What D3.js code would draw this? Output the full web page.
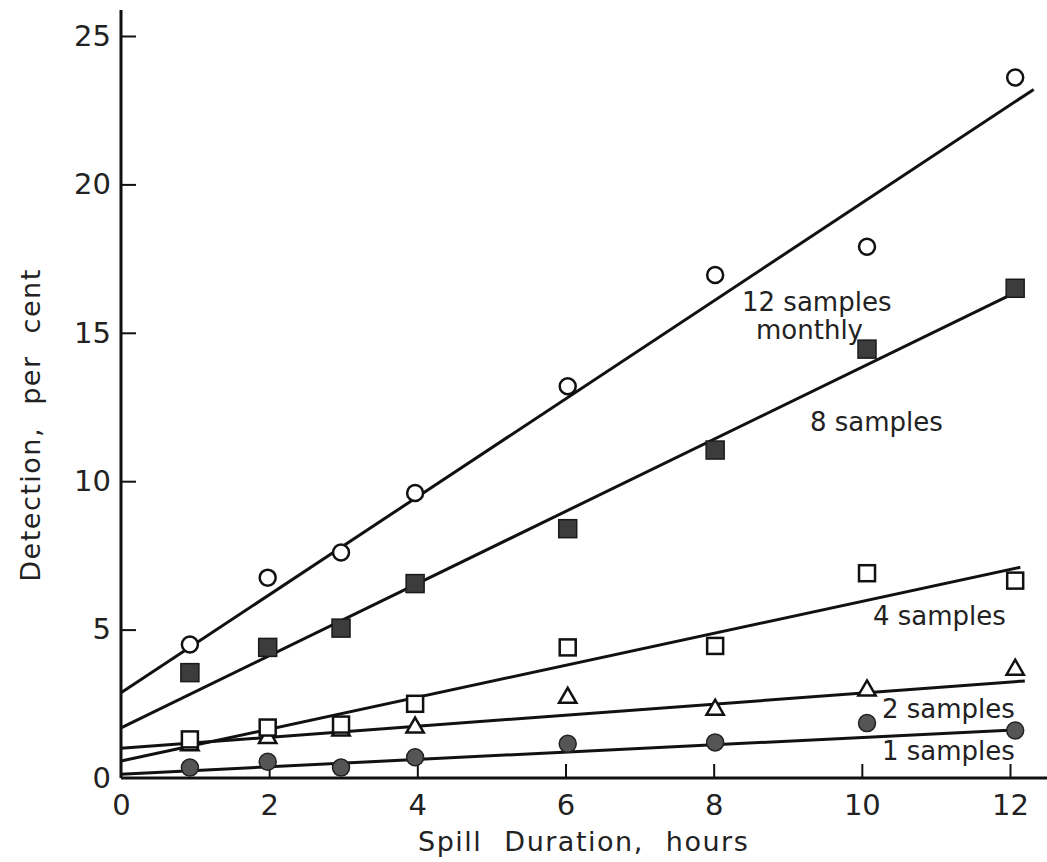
<!DOCTYPE html>
<html>
<head>
<meta charset="utf-8">
<script src="https://cdn.jsdelivr.net/npm/d3@7"></script>
<style>
  body { margin: 0; background: #fff; }
  svg { display: block; font-family: "DejaVu Sans", sans-serif; }
  .tick text { fill: #222; }
  .fit { fill: none; stroke: #111; stroke-width: 3; }
  .lbl { font-size: 26px; fill: #222; }
</style>
</head>
<body>
<svg></svg>
<script>
const w = 1047;
const h = 862;

// Data
const hours = [0.93, 1.98, 2.97, 3.97, 6.03, 8.02, 10.07, 12.07];
const samples12 = [4.5, 6.75, 7.6, 9.6, 13.2, 16.95, 17.9, 23.6];
const samples8 = [3.55, 4.4, 5.05, 6.55, 8.4, 11.05, 14.45, 16.5];
const samples4 = [1.3, 1.7, 1.8, 2.5, 4.4, 4.45, 6.9, 6.65];
const samples2 = [1.1, 1.35, 1.6, 1.7, 2.7, 2.3, 2.95, 3.65];
const samples1 = [0.35, 0.55, 0.35, 0.7, 1.15, 1.2, 1.85, 1.6];

// fitted lines: [x0, y0, x1, y1]
const fit12 = [0, 2.87, 12.32, 23.2];
const fit8 = [0, 1.69, 12.0, 16.27];
const fit4 = [0, 0.57, 12.14, 7.1];
const fit2 = [0, 1.0, 12.2, 3.27];
const fit1 = [0, 0.13, 12.05, 1.62];

const xTicks = [0, 2, 4, 6, 8, 10, 12];
const yTicks = [0, 5, 10, 15, 20, 25];

const svg = d3.select("svg")
    .attr("width", w)
    .attr("height", h);

const x = d3.scaleLinear().domain([0, 12]).range([121, 1010]);
const y = d3.scaleLinear().domain([0, 25]).range([778, 36]);

// axes
const xAxis = d3.axisBottom(x)
    .tickValues(xTicks)
    .tickSizeInner(-14)
    .tickSizeOuter(0)
    .tickPadding(16);

const gx = svg.append("g")
    .attr("transform", `translate(0,${y(0)})`)
    .call(xAxis);
gx.select(".domain").remove();
gx.selectAll(".tick line").attr("stroke", "#111").attr("stroke-width", 2)
    .filter(d => d === 0).remove();
gx.selectAll(".tick text").attr("font-size", 29).attr("font-family", "DejaVu Sans");

const yAxis = d3.axisLeft(y)
    .tickValues(yTicks)
    .tickSizeInner(-15)
    .tickSizeOuter(0)
    .tickPadding(10);

const gy = svg.append("g")
    .attr("transform", `translate(${x(0)},0)`)
    .call(yAxis);
gy.select(".domain").remove();
gy.selectAll(".tick line").attr("stroke", "#111").attr("stroke-width", 2)
    .filter(d => d === 0).remove();
gy.selectAll(".tick text").attr("font-size", 29).attr("font-family", "DejaVu Sans");

svg.append("line")
    .attr("x1", x(0)).attr("x2", w)
    .attr("y1", y(0)).attr("y2", y(0))
    .attr("stroke", "#111").attr("stroke-width", 3);
svg.append("line")
    .attr("x1", x(0)).attr("x2", x(0))
    .attr("y1", y(0)).attr("y2", 10)
    .attr("stroke", "#111").attr("stroke-width", 3);

svg.append("text")
    .attr("x", 418).attr("y", 851)
    .attr("font-size", 27)
    .attr("fill", "#222")
    .attr("letter-spacing", 1.5)
    .attr("word-spacing", 12)
    .text("Spill Duration, hours");

svg.append("text")
    .attr("transform", "translate(40,425) rotate(-90)")
    .attr("text-anchor", "middle")
    .attr("font-size", 27)
    .attr("fill", "#222")
    .attr("letter-spacing", 1.5)
    .attr("word-spacing", 12)
    .text("Detection, per cent");

// fit lines
const fits = [fit12, fit8, fit4, fit2, fit1];
svg.selectAll(".fit")
    .data(fits)
    .enter()
    .append("line")
    .attr("class", "fit")
    .attr("x1", d => x(d[0]))
    .attr("y1", d => y(d[1]))
    .attr("x2", d => x(d[2]))
    .attr("y2", d => y(d[3]));

// markers
const pts = v => v.map((d, i) => ({ x: hours[i], y: d }));

svg.selectAll(".s1")
    .data(pts(samples1))
    .enter()
    .append("circle")
    .attr("class", "s1")
    .attr("cx", d => x(d.x))
    .attr("cy", d => y(d.y))
    .attr("r", 8.5)
    .attr("fill", "#555")
    .attr("stroke", "#222")
    .attr("stroke-width", 1.5);

const tri = d3.symbol().type(d3.symbolTriangle).size(130);
svg.selectAll(".s2")
    .data(pts(samples2))
    .enter()
    .append("path")
    .attr("class", "s2")
    .attr("transform", d => `translate(${x(d.x)},${y(d.y)})`)
    .attr("d", tri)
    .attr("fill", "#fff")
    .attr("stroke", "#111")
    .attr("stroke-width", 2.5);

svg.selectAll(".s4")
    .data(pts(samples4))
    .enter()
    .append("rect")
    .attr("class", "s4")
    .attr("x", d => x(d.x) - 8)
    .attr("y", d => y(d.y) - 8)
    .attr("width", 16)
    .attr("height", 16)
    .attr("fill", "#fff")
    .attr("stroke", "#111")
    .attr("stroke-width", 2.5);

svg.selectAll(".s8")
    .data(pts(samples8))
    .enter()
    .append("rect")
    .attr("class", "s8")
    .attr("x", d => x(d.x) - 9)
    .attr("y", d => y(d.y) - 9)
    .attr("width", 18)
    .attr("height", 18)
    .attr("fill", "#3c3c3c")
    .attr("stroke", "#1a1a1a")
    .attr("stroke-width", 1.5);

svg.selectAll(".s12")
    .data(pts(samples12))
    .enter()
    .append("circle")
    .attr("class", "s12")
    .attr("cx", d => x(d.x))
    .attr("cy", d => y(d.y))
    .attr("r", 8)
    .attr("fill", "#fff")
    .attr("stroke", "#111")
    .attr("stroke-width", 2.5);

// series labels
const labels = [
  { t: "12 samples", x: 742, y: 311 },
  { t: "monthly", x: 756, y: 339 },
  { t: "8 samples", x: 810, y: 431 },
  { t: "4 samples", x: 873, y: 625 },
  { t: "2 samples", x: 882, y: 718 },
  { t: "1 samples", x: 882, y: 760 }
];
svg.selectAll(".lbl")
    .data(labels)
    .enter()
    .append("text")
    .attr("class", "lbl")
    .attr("x", d => d.x)
    .attr("y", d => d.y)
    .text(d => d.t);
</script>
</body>
</html>
